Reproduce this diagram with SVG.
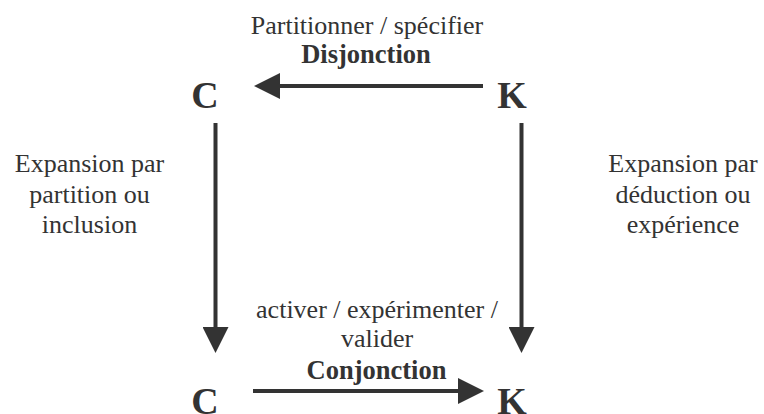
<svg xmlns="http://www.w3.org/2000/svg" width="764" height="414" viewBox="0 0 764 414">
  <style>
    text { font-family: "Liberation Serif", Tinos, "Times New Roman", Times, "DejaVu Serif", serif; fill: #333; text-anchor: middle; }
    .t { font-size: 26px; }
    .b { font-size: 26.5px; font-weight: bold; }
    .n { font-size: 38px; font-weight: bold; }
    .c { stroke: #333; stroke-width: 4; fill: none; marker-end: url(#ah); }
  </style>
  <defs>
    <marker id="ah" viewBox="0 0 26 26" refX="0" refY="13" markerWidth="26" markerHeight="26" markerUnits="userSpaceOnUse" orient="auto">
      <path d="M0,0 L26,13 L0,26 z" fill="#333"/>
    </marker>
  </defs>
  <rect width="764" height="414" fill="#fff"/>
  <g id="connectors">
    <line class="c" x1="483" y1="86" x2="280" y2="86"/>
    <line class="c" x1="215.5" y1="123" x2="215.5" y2="327"/>
    <line class="c" x1="521.5" y1="123" x2="521.5" y2="327"/>
    <line class="c" x1="253" y1="391" x2="458" y2="391"/>
  </g>
  <g id="C-top"><text class="n" x="205" y="108">C</text></g>
  <g id="K-top"><text class="n" x="512" y="108">K</text></g>
  <g id="C-bottom"><text class="n" x="205" y="414">C</text></g>
  <g id="K-bottom"><text class="n" x="512" y="414">K</text></g>
  <g id="label-top">
    <text class="t" x="367" y="34">Partitionner / spécifier</text>
    <text class="b" x="366" y="63">Disjonction</text>
  </g>
  <g id="label-left">
    <text class="t" x="89.5" y="172">Expansion par</text>
    <text class="t" x="89.5" y="203">partition ou</text>
    <text class="t" x="89.5" y="233">inclusion</text>
  </g>
  <g id="label-right">
    <text class="t" x="683" y="172">Expansion par</text>
    <text class="t" x="683" y="203">déduction ou</text>
    <text class="t" x="683" y="233">expérience</text>
  </g>
  <g id="label-bottom">
    <text class="t" x="377" y="318">activer / expérimenter /</text>
    <text class="t" x="377" y="347">valider</text>
    <text class="b" x="376.5" y="379">Conjonction</text>
  </g>
</svg>
